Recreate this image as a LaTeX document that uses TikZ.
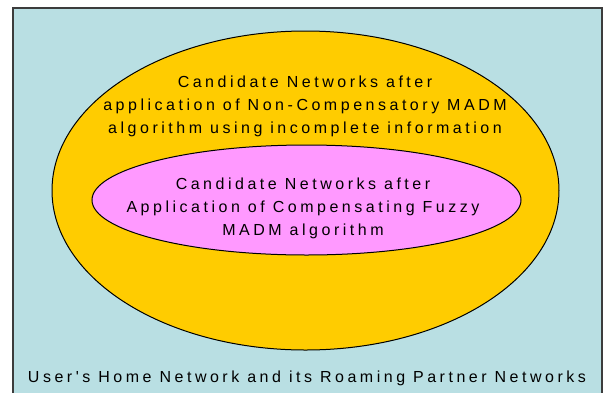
\documentclass[tikz,border=0pt]{standalone}
\usepackage{fontspec}
\newfontfamily\lsfont{Liberation Sans}[LetterSpace=22]
\definecolor{bgblue}{RGB}{185,223,227}
\definecolor{outeryellow}{RGB}{255,204,0}
\definecolor{innerpink}{RGB}{255,153,255}
\definecolor{framegray}{RGB}{60,60,60}
\tikzset{
  lbl/.style={inner sep=0pt, align=center, font=\lsfont\fontsize{16}{23}\selectfont},
  ellipsebox/.style={draw=black, line width=1pt}
}
\begin{document}
\begin{tikzpicture}[x=1pt,y=-1pt]
\useasboundingbox (0,0) rectangle (603,392);
\clip (0,0) rectangle (603,392);
\draw[framegray, line width=1.6pt, fill=bgblue] (13,8) rectangle (602,400);
\draw[ellipsebox, fill=outeryellow] (305.5,190.5) ellipse [x radius=253.5, y radius=159.5];
\node[lbl] (outertext) at (305,105.9) {Candidate Networks after\\application of Non-Compensatory MADM\\algorithm using incomplete information};
\draw[ellipsebox, fill=innerpink] (306.5,200) ellipse [x radius=214.5, y radius=55];
\node[lbl] (innertext) at (303,208.8) {Candidate Networks after\\Application of Compensating Fuzzy\\MADM algorithm};
\node[lbl, anchor=base] (bottomtext) at (307,382) {User's Home Network and its Roaming Partner Networks};
\end{tikzpicture}
\end{document}
